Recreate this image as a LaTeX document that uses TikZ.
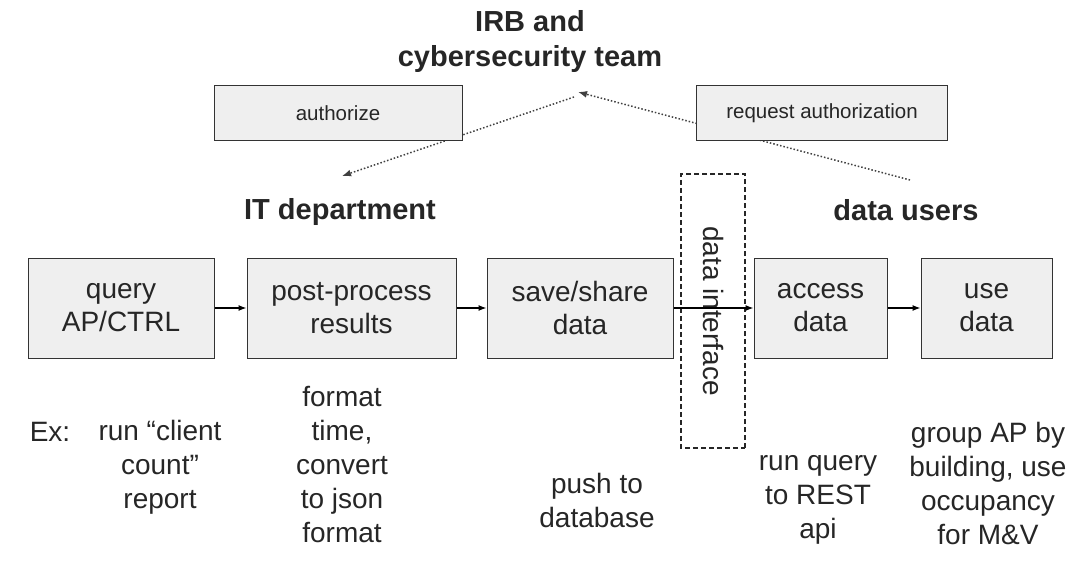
\documentclass[tikz,border=0pt]{standalone}
\usepackage{fontspec}
\setmainfont{Liberation Sans}
\usetikzlibrary{arrows.meta}
\definecolor{boxfill}{HTML}{EFEFEF}
\definecolor{ink}{HTML}{262626}
\tikzset{
  stage/.style={draw=black!80, line width=1pt, fill=boxfill, minimum height=100,
    align=center, text=ink, font=\fontsize{28}{33}\selectfont},
  approval/.style={draw=black!80, line width=1pt, fill=boxfill, minimum width=248,
    minimum height=55, text=ink, font=\fontsize{20.5}{24}\selectfont},
  heading/.style={text=ink, align=center, inner sep=0, font=\bfseries\fontsize{29}{35}\selectfont},
  example/.style={text=ink, align=center, inner sep=0, font=\fontsize{28}{34}\selectfont},
  authflow/.style={draw=black!75, line width=1.5pt, dotted, -{Latex[length=9pt,width=7pt]}},
  dataflow/.style={draw=black, line width=1.2pt, -{Latex[length=8pt,width=6pt]}}
}
\begin{document}
\begin{tikzpicture}[x=1pt,y=-1pt]
  \useasboundingbox (0,0) rectangle (1079,575);
  \coordinate (irbin) at (578,92);
  \coordinate (irbout) at (574,97);
  \coordinate (itin) at (342,176);
  \coordinate (usersout) at (910,180);
  \begin{scope}[authflow]
    \draw (usersout) to (irbin);
    \draw (irbout) to (itin);
  \end{scope}
  \draw
    (530,42) node[heading] (irb) {IRB and\\cybersecurity team}
    (340,212) node[heading] (it) {IT department}
    (906,210) node[heading] (users) {data users}
    (338,113) node[approval] (auth) {authorize}
    (822,113) node[approval, minimum width=251] (req) {request authorization};
  \draw
    (121,308) node[stage, minimum width=186] (q) {query\\AP/CTRL}
    (351.5,308) node[stage, minimum width=209] (pp) {post-process\\results}
    (580,308) node[stage, minimum width=186] (ss) {save/share\\data}
    (820.5,308) node[stage, minimum width=133] (ad) {access\\data}
    (986.5,308) node[stage, minimum width=131] (ud) {use\\data}
    (713,311) node[draw=black!85, line width=1.1pt, dash pattern=on 5pt off 3pt,
      rotate=-90, minimum width=274, minimum height=64, text=ink,
      font=\fontsize{28}{33}\selectfont] (iface) {data interface};
  \begin{scope}[dataflow]
    \draw (q) to (pp);
    \draw (pp) to (ss);
    \draw (ss) to (ad);
    \draw (ad) to (ud);
  \end{scope}
  \draw
    (50,432) node[example] (ex) {Ex:}
    (160,467) node[example] (exq) {run “client\\count”\\report}
    (342,465) node[example] (expp) {format\\time,\\convert\\to json\\format}
    (597,500) node[example] (exss) {push to\\database}
    (818,500) node[example] (exad) {run query\\to REST\\api}
    (988,483) node[example] (exud) {group AP by\\building, use\\occupancy\\for M\&V};
\end{tikzpicture}
\end{document}
